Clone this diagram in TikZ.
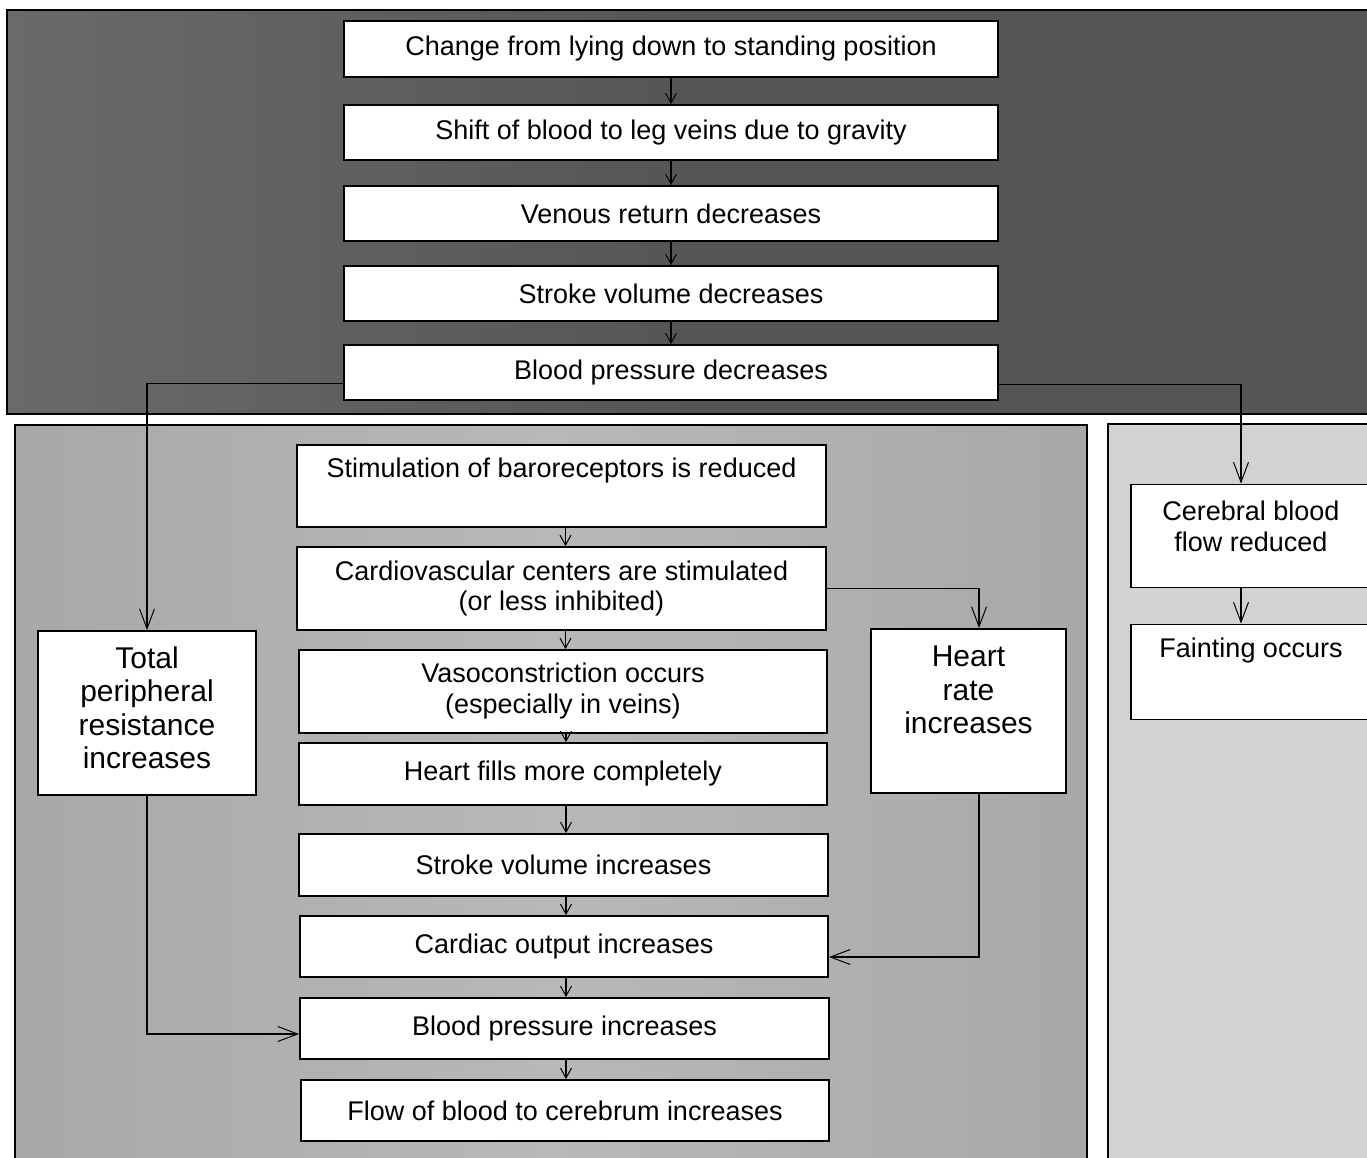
\documentclass[tikz,border=0pt]{standalone}
\usepackage{fontspec}
\setmainfont{Liberation Sans}
\usetikzlibrary{arrows.meta}
\definecolor{topdark}{HTML}{555555}
\definecolor{topside}{HTML}{6A6A6A}
\definecolor{midgray}{HTML}{A8A8A8}
\definecolor{midlight}{HTML}{B8B8B8}
\definecolor{rightgray}{HTML}{D2D2D2}
\begin{document}
\begin{tikzpicture}[x=1pt,y=-1pt,
  box/.style={draw=black, line width=1.8pt, fill=white, inner sep=0pt, align=center,
              font=\fontsize{27}{31}\selectfont},
  txt/.style={inner sep=0pt, align=center, font=\fontsize{27}{31}\selectfont},
  bigtxt/.style={inner sep=0pt, align=center, font=\fontsize{30}{33.5}\selectfont},
  panel/.style={draw=black, line width=1.5pt},
  arr/.style={draw=black, line width=1.1pt, -{Straight Barb[length=20pt,width=15pt,line width=1pt]}},
  sarr/.style={draw=black, line width=1.1pt, -{Straight Barb[length=10pt,width=11pt,line width=1pt]}},
]
\useasboundingbox (0,0) rectangle (1367,1157);
\fill[white] (0,0) rectangle (1367,1157);

% panels
\shade[panel, left color=topside, right color=topdark, middle color=topdark] (7,10) rectangle (1380,414);
\shade[panel, left color=midgray, right color=midgray, middle color=midlight] (15,425) rectangle (1087,1175);
\fill[panel, fill=rightgray] (1108,424) rectangle (1380,1175);

% top column
\node[box, minimum width=654pt, minimum height=56pt] (n1) at (671,49) {Change from lying down to standing position};
\node[box, minimum width=654pt, minimum height=55pt] (n2) at (671,132.5) {Shift of blood to leg veins due to gravity};
\node[box, minimum width=654pt, minimum height=55pt] (n3) at (671,213.5) {Venous return decreases};
\node[box, minimum width=654pt, minimum height=55pt] (n4) at (671,293.5) {Stroke volume decreases};
\node[box, minimum width=654pt, minimum height=55pt] (n5) at (671,372.5) {Blood pressure decreases};

% middle column
\node[box, minimum width=529pt, minimum height=82pt] (stim) at (561.5,486) {};
\node[txt] (stimt) at ([yshift=15pt]stim.center) {Stimulation of baroreceptors is reduced};
\node[box, minimum width=529pt, minimum height=83pt] (cardio) at (561.5,588.5) {Cardiovascular centers are stimulated\\(or less inhibited)};
\node[box, minimum width=528pt, minimum height=83pt] (vaso) at (563,691.5) {Vasoconstriction occurs\\(especially in veins)};
\node[box, minimum width=528pt, minimum height=62pt] (fills) at (563,774) {Heart fills more completely};
\node[box, minimum width=529pt, minimum height=62pt] (sv) at (563.5,865) {Stroke volume increases};
\node[box, minimum width=528pt, minimum height=61pt] (co) at (564,946.5) {Cardiac output increases};
\node[box, minimum width=529pt, minimum height=61pt] (bpi) at (564.5,1028.5) {Blood pressure increases};
\node[box, minimum width=528pt, minimum height=61pt] (flow) at (565,1110.5) {Flow of blood to cerebrum increases};

% side boxes
\node[box, minimum width=218pt, minimum height=164pt] (tpr) at (147,713) {};
\node[bigtxt] (tprt) at ([yshift=5pt]tpr.center) {Total\\peripheral\\resistance\\increases};
\node[box, minimum width=195pt, minimum height=164pt] (hr) at (968.5,711) {};
\node[bigtxt] (hrt) at ([yshift=21pt]hr.center) {Heart\\rate\\increases};
\node[box, minimum width=240pt, minimum height=103pt] (cer) at (1251,536) {};
\node[txt] (cert) at ([yshift=10pt]cer.center) {Cerebral blood\\flow reduced};
\node[box, minimum width=240pt, minimum height=95pt] (faint) at (1251,672) {};
\node[txt] (faintt) at ([yshift=21pt]faint.center) {Fainting occurs};

% top arrows
\draw[sarr] (n1.south) -- (n2.north);
\draw[sarr] (n2.south) -- (n3.north);
\draw[sarr] (n3.south) -- (n4.north);
\draw[sarr] (n4.south) -- (n5.north);

% middle arrows
\draw[sarr] ([xshift=4pt]stim.south) -- ([xshift=4pt]stim.south |- cardio.north);
\draw[sarr] ([xshift=4pt]cardio.south) -- ([xshift=4pt]cardio.south |- vaso.north);
\draw[sarr] ([xshift=3pt]vaso.south) -- ([xshift=3pt]vaso.south |- fills.north);
\draw[sarr] ([xshift=3pt]fills.south) -- ([xshift=3pt]fills.south |- sv.north);
\draw[sarr] ([xshift=2.5pt]sv.south) -- ([xshift=2.5pt]sv.south |- co.north);
\draw[sarr] ([xshift=2pt]co.south) -- ([xshift=2pt]co.south |- bpi.north);
\draw[sarr] ([xshift=1.5pt]bpi.south) -- ([xshift=1.5pt]bpi.south |- flow.north);

% branch connectors
\draw[arr] ([yshift=-11pt]n5.west) -| (tpr.north);
\draw[arr] ([yshift=-12pt]n5.east) -| ([xshift=-10pt]cer.north);
\draw[arr] ([xshift=-10pt]cer.south) -- ([xshift=-10pt]faint.north);
\draw[arr] (cardio.east) -| ([xshift=10.5pt]hr.north);
\draw[arr] ([xshift=10.5pt]hr.south) |- ([yshift=-10.5pt]co.east);
\draw[arr] (tpr.south) |- ([yshift=-5.5pt]bpi.west);
\end{tikzpicture}
\end{document}
